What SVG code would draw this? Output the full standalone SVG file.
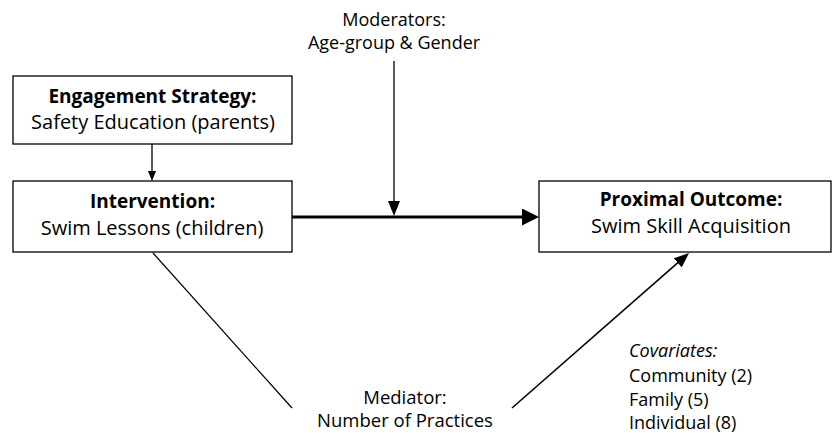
<svg xmlns="http://www.w3.org/2000/svg" width="832" height="433" viewBox="0 0 832 433">
<style>
.box{fill:#fff;stroke:#000;stroke-width:1.3}
text{font-family:"Open Sans","Liberation Sans",sans-serif;font-size:18px;fill:#000}
.n{font-size:20px}
.b{font-weight:bold;font-size:19px}
.c{text-anchor:middle}
.i{font-style:italic}
.m{font-size:18.5px}
.ln{stroke:#000;stroke-width:1.3;fill:none}
.thick{stroke:#000;stroke-width:3;fill:none}
</style>
<defs>
<marker id="ahS" markerUnits="userSpaceOnUse" markerWidth="10" markerHeight="8" refX="1" refY="4" orient="auto"><path d="M0,0 L10,4 L0,8 z" fill="#000"/></marker>
<marker id="ahM" markerUnits="userSpaceOnUse" markerWidth="15" markerHeight="12" refX="1" refY="6" orient="auto"><path d="M0,0 L15,6 L0,12 z" fill="#000"/></marker>
<marker id="ahL" markerUnits="userSpaceOnUse" markerWidth="17" markerHeight="17" refX="1" refY="8.5" orient="auto"><path d="M0,0 L17,8.5 L0,17 z" fill="#000"/></marker>
</defs>
<g id="connectors">
<line class="ln" x1="152" y1="144" x2="152" y2="172" marker-end="url(#ahS)"/>
<line class="thick" x1="292" y1="217" x2="523" y2="217" marker-end="url(#ahL)"/>
<line class="ln" x1="394" y1="61" x2="394" y2="202" marker-end="url(#ahM)"/>
<line class="ln" x1="153" y1="253" x2="292" y2="408"/>
<line class="ln" x1="512" y1="408" x2="678.5" y2="262.2" marker-end="url(#ahM)" style="stroke-width:1.6"/>
</g>
<g id="engagement">
<rect class="box" x="13" y="76" width="279" height="68"/>
<text class="c b" x="152.5" y="103">Engagement Strategy:</text>
<text class="c n" x="153" y="129">Safety Education (parents)</text>
</g>
<g id="intervention">
<rect class="box" x="13" y="181" width="279" height="71"/>
<text class="c b" x="152.5" y="208">Intervention:</text>
<text class="c n" x="152" y="235">Swim Lessons (children)</text>
</g>
<g id="outcome">
<rect class="box" x="539" y="181" width="292" height="71"/>
<text class="c b" x="691" y="206">Proximal Outcome:</text>
<text class="c n" x="691" y="233">Swim Skill Acquisition</text>
</g>
<g id="moderators">
<text class="c" x="394" y="26">Moderators:</text>
<text class="c" x="394" y="49">Age-group &amp; Gender</text>
</g>
<g id="mediator">
<text class="c m" x="405" y="404">Mediator:</text>
<text class="c m" x="405" y="427">Number of Practices</text>
</g>
<g id="covariates">
<text class="i" x="629" y="357">Covariates:</text>
<text x="629" y="382">Community (2)</text>
<text x="629" y="406">Family (5)</text>
<text x="629" y="429">Individual (8)</text>
</g>
</svg>
